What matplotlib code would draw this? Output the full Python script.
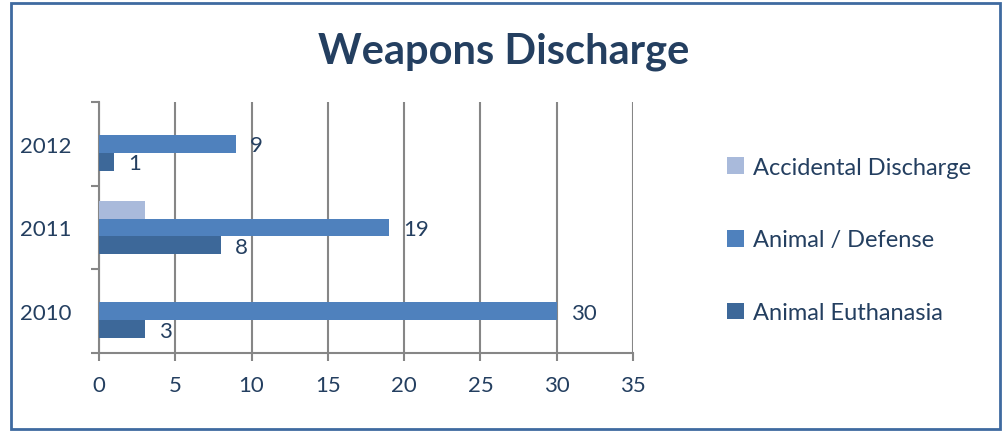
import numpy as np
import matplotlib.pyplot as plt
from matplotlib.patches import Rectangle

plt.rcParams['font.family'] = ['Lato', 'DejaVu Sans']

years = ['2010', '2011', '2012']
euthanasia = [3, 8, 1]
defense = [30, 19, 9]
accidental = [0, 3, 0]

c_euth = '#3D6899'
c_def = '#4F81BD'
c_acc = '#A9BADB'
txt = '#243F60'
grid = '#868686'

fig = plt.figure(figsize=(10.08, 4.35), dpi=100)
ax = fig.add_axes([99 / 1008, 81 / 435, 534 / 1008, 251 / 435])

y = np.arange(len(years))
h = 0.215
b_acc = ax.barh(y + h, accidental, height=h, color=c_acc, label='Accidental Discharge', zorder=3)
b_def = ax.barh(y, defense, height=h, color=c_def, label='Animal / Defense', zorder=3)
b_eu = ax.barh(y - h, euthanasia, height=h, color=c_euth, label='Animal Euthanasia', zorder=3)

# value labels only for the two visible series
for bars in (b_def, b_eu):
    for r in bars:
        w = r.get_width()
        ax.annotate(str(w), (w, r.get_y() + r.get_height() / 2), xytext=(10, -1),
                    textcoords='offset points', va='center', ha='left',
                    fontsize=16, color=txt)

ax.set_xlim(0, 35)
ax.set_ylim(-0.5, 2.5)
ax.set_xticks(np.arange(0, 36, 5))
ax.tick_params(axis='x', length=6, width=1.5, color=grid, labelsize=16,
               labelcolor=txt, pad=10)
ax.set_yticks([-0.5, 0.5, 1.5, 2.5])
ax.set_yticklabels([])
ax.set_yticks(y, minor=True)
ax.set_yticklabels(years, minor=True)
ax.tick_params(axis='y', which='major', length=6, width=1.5, color=grid)
ax.tick_params(axis='y', which='minor', length=0, labelsize=16, labelcolor=txt, pad=20)
ax.grid(axis='x', color=grid, linewidth=1.5, zorder=0)
for s in ('top', 'right'):
    ax.spines[s].set_visible(False)
for s in ('left', 'bottom'):
    ax.spines[s].set_color(grid)
    ax.spines[s].set_linewidth(1.5)

fig.text(0.5, 0.88, 'Weapons Discharge', ha='center', va='center',
         fontsize=30, fontweight='bold', color=txt)

leg = fig.legend(handles=[b_acc, b_def, b_eu], loc='center left',
                 bbox_to_anchor=(706 / 1008, 1 - 241 / 435), frameon=False, fontsize=17,
                 labelspacing=2.2, handlelength=0.7, handleheight=0.7,
                 handletextpad=0.4, labelcolor=txt)

fig.patches.append(Rectangle((11 / 1008, 5 / 435), 989 / 1008, 426 / 435,
                             transform=fig.transFigure, fill=False,
                             edgecolor='#3F6AA0', linewidth=2))

fig.savefig('out.png', dpi=100)
